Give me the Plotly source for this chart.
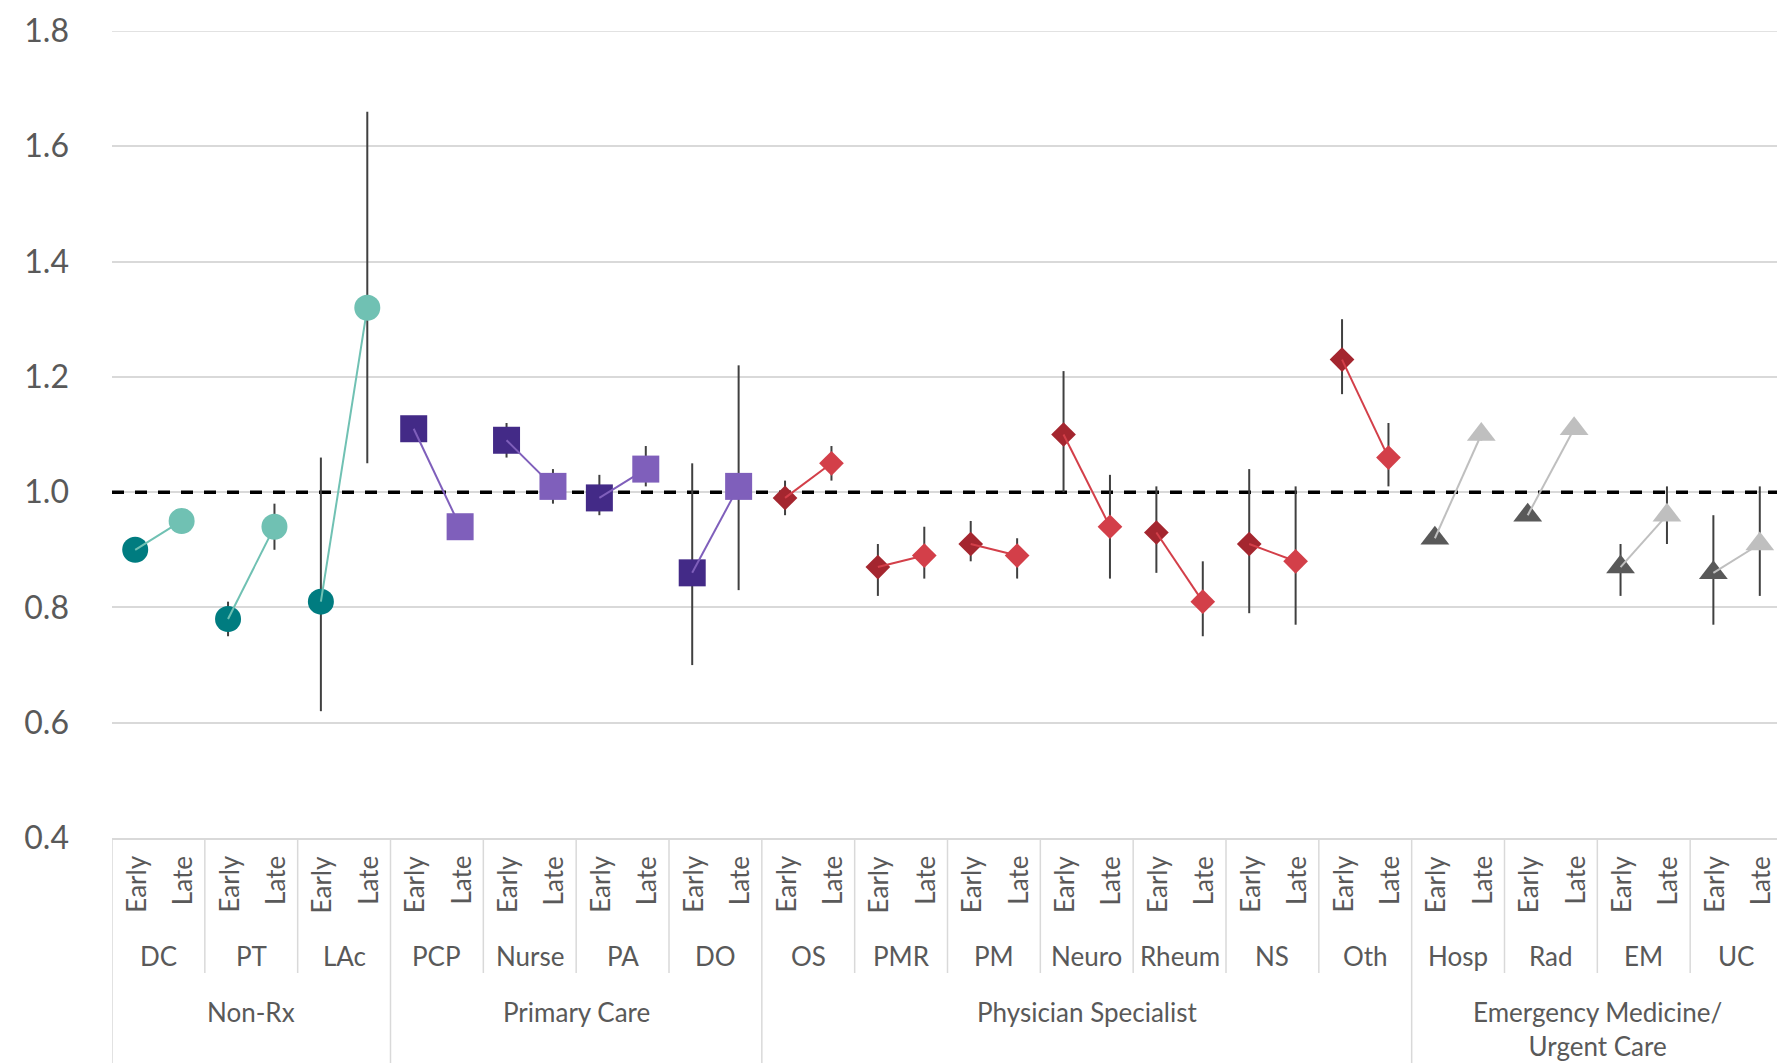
import plotly.graph_objects as go

# ---------------- data ----------------
groups = ["Non-Rx", "Primary Care", "Physician Specialist", "Emergency Medicine/<br>Urgent Care"]
group_subcats = [
    ["DC", "PT", "LAc"],
    ["PCP", "Nurse", "PA", "DO"],
    ["OS", "PMR", "PM", "Neuro", "Rheum", "NS", "Oth"],
    ["Hosp", "Rad", "EM", "UC"],
]
periods = ["Early", "Late"]

early =    [0.90, 0.78, 0.81, 1.11, 1.09, 0.99, 0.86, 0.99, 0.87, 0.91, 1.10, 0.93, 0.91, 1.23, 0.92, 0.96, 0.87, 0.86]
early_lo = [0.89, 0.75, 0.62, 1.10, 1.06, 0.96, 0.70, 0.96, 0.82, 0.88, 1.00, 0.86, 0.79, 1.17, 0.91, 0.95, 0.82, 0.77]
early_hi = [0.91, 0.81, 1.06, 1.12, 1.12, 1.03, 1.05, 1.02, 0.91, 0.95, 1.21, 1.01, 1.04, 1.30, 0.93, 0.97, 0.91, 0.96]

late =     [0.95, 0.94, 1.32, 0.94, 1.01, 1.04, 1.01, 1.05, 0.89, 0.89, 0.94, 0.81, 0.88, 1.06, 1.10, 1.11, 0.96, 0.91]
late_lo =  [0.94, 0.90, 1.05, 0.93, 0.98, 1.01, 0.83, 1.02, 0.85, 0.85, 0.85, 0.75, 0.77, 1.01, 1.09, 1.10, 0.91, 0.82]
late_hi =  [0.96, 0.98, 1.66, 0.95, 1.04, 1.08, 1.22, 1.08, 0.94, 0.92, 1.03, 0.88, 1.01, 1.12, 1.11, 1.12, 1.01, 1.01]

reference_value = 1.0
y_ticks = [0.4, 0.6, 0.8, 1.0, 1.2, 1.4, 1.6, 1.8]

# ---------------- styles ----------------
symbols = ["circle", "square", "diamond", "triangle-up"]
sizes = [26, 27, 19, 25]
early_colors = ["#007C80", "#432A87", "#A4262F", "#595959"]
late_colors = ["#70C1B3", "#7F5FBB", "#D33F49", "#BFBFBF"]
line_colors = ["#70C1B3", "#7F5FBB", "#D33F49", "#BFBFBF"]
err_color = "#404040"
txt_color = "#595959"
grid_color = "#D9D9D9"
FONT = "Lato"

fig = go.Figure()

n_sub = sum(len(s) for s in group_subcats)
x_range = [-0.5, 2 * n_sub - 0.5]

# top gridline (plotly omits the gridline at the very edge of the range)
fig.add_shape(type="line", xref="x domain", x0=0, x1=1, yref="y",
              y0=y_ticks[-1], y1=y_ticks[-1],
              line=dict(color=grid_color, width=1.5), layer="below")

# reference dashed line at 1.0 (drawn first so markers sit on top)
fig.add_trace(go.Scatter(x=x_range, y=[reference_value, reference_value], mode="lines",
                         line=dict(color="black", width=3.5, dash="12px,11px"),
                         showlegend=False, hoverinfo="skip"))

k0 = 0
group_bounds = [0]
for g, subs in enumerate(group_subcats):
    idx = list(range(k0, k0 + len(subs)))
    ex = [2 * k for k in idx]
    lx = [2 * k + 1 for k in idx]
    ey = [early[k] for k in idx]
    ly = [late[k] for k in idx]
    fig.add_trace(go.Scatter(
        x=ex, y=ey, mode="markers",
        marker=dict(symbol=symbols[g], size=sizes[g], color=early_colors[g]),
        error_y=dict(type="data", symmetric=False,
                     array=[early_hi[k] - early[k] for k in idx],
                     arrayminus=[early[k] - early_lo[k] for k in idx],
                     width=0, thickness=2, color=err_color),
        showlegend=False, hoverinfo="skip"))
    cx, cy = [], []
    for k in idx:
        cx += [2 * k, 2 * k + 1, None]
        cy += [early[k], late[k], None]
    fig.add_trace(go.Scatter(x=cx, y=cy, mode="lines",
                             line=dict(color=line_colors[g], width=2),
                             showlegend=False, hoverinfo="skip"))
    fig.add_trace(go.Scatter(
        x=lx, y=ly, mode="markers",
        marker=dict(symbol=symbols[g], size=sizes[g], color=late_colors[g]),
        error_y=dict(type="data", symmetric=False,
                     array=[late_hi[k] - late[k] for k in idx],
                     arrayminus=[late[k] - late_lo[k] for k in idx],
                     width=0, thickness=2, color=err_color),
        showlegend=False, hoverinfo="skip"))
    k0 += len(subs)
    group_bounds.append(k0)

# category-axis separators
for b in range(n_sub + 1):
    full = b in group_bounds
    fig.add_shape(type="line", xref="x", x0=2 * b - 0.5, x1=2 * b - 0.5,
                  yref="paper", ysizemode="pixel", yanchor=0,
                  y0=0, y1=-230 if full else -135,
                  line=dict(color=grid_color, width=1.5))

annotations = []
k = 0
for g, subs in enumerate(group_subcats):
    start = k
    for s in subs:
        for p, per in enumerate(periods):
            annotations.append(dict(
                x=2 * k + p, y=0, xref="x", yref="paper", text=per,
                textangle=-90, showarrow=False, xanchor="center", yanchor="top",
                yshift=-16, font=dict(family=FONT, size=26, color=txt_color)))
        annotations.append(dict(
            x=2 * k + 0.5, y=0, xref="x", yref="paper", text=s,
            showarrow=False, xanchor="center", yanchor="middle", yshift=-118,
            font=dict(family=FONT, size=26, color=txt_color)))
        k += 1
    annotations.append(dict(
        x=(2 * start + 2 * k - 1) / 2, y=0, xref="x", yref="paper", text=groups[g],
        showarrow=False, xanchor="center", yanchor="top", yshift=-156,
        font=dict(family=FONT, size=26, color=txt_color)))

# page body has an 8px margin, so the figure is 8px smaller and margins shifted
fig.update_layout(
    width=1777, height=1055,
    margin=dict(l=104, r=2, t=21, b=225),
    paper_bgcolor="white", plot_bgcolor="white",
    annotations=annotations,
    showlegend=False,
    xaxis=dict(range=x_range, showticklabels=False, showgrid=False,
               zeroline=False, showline=True, linecolor=grid_color, linewidth=1.5,
               ticks=""),
    yaxis=dict(range=[0.4, 1.8], tickvals=y_ticks, tickformat=".1f",
               showgrid=True, gridcolor=grid_color, gridwidth=1.5,
               zeroline=False, showline=False, ticks="",
               ticklabelstandoff=42,
               tickfont=dict(family=FONT, size=32, color=txt_color)),
)

fig.write_html("out.html")
